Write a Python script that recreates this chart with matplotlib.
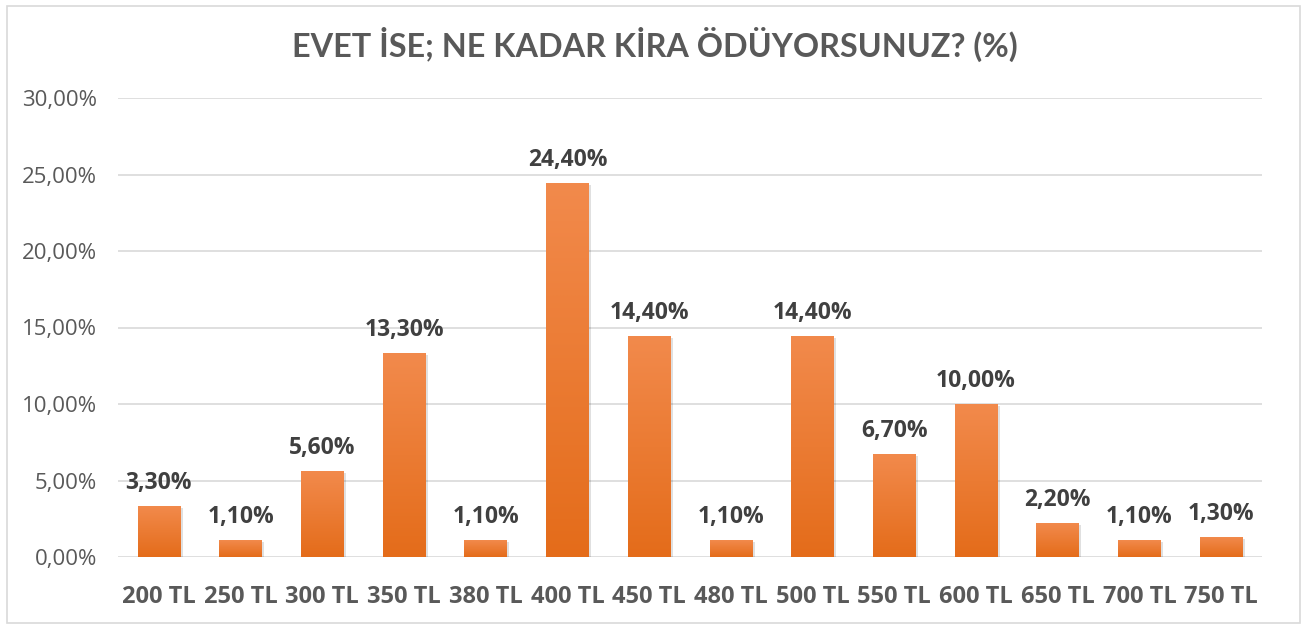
import numpy as np
import matplotlib.pyplot as plt
from matplotlib.colors import LinearSegmentedColormap
from matplotlib.patches import Rectangle

plt.rcParams['font.family'] = ['Open Sans', 'DejaVu Sans']

# veriler
categories = ['200 TL', '250 TL', '300 TL', '350 TL', '380 TL', '400 TL', '450 TL',
              '480 TL', '500 TL', '550 TL', '600 TL', '650 TL', '700 TL', '750 TL']
values = [3.3, 1.1, 5.6, 13.3, 1.1, 24.4, 14.4, 1.1, 14.4, 6.7, 10.0, 2.2, 1.1, 1.3]
yticks = [0, 5, 10, 15, 20, 25, 30]

fig = plt.figure(figsize=(13.09, 6.28), dpi=100)
ax = fig.add_axes([118 / 1309, 1 - 557 / 628, 1144 / 1309, 459 / 628])

# çerçeve
fig.add_artist(Rectangle((7 / 1309, 5 / 628), 1293 / 1309, 617 / 628, transform=fig.transFigure,
                         fill=False, edgecolor='#d9d9d9', linewidth=1.2))

cmap = LinearSegmentedColormap.from_list('og', ['#e46c1a', '#f28a4c'])
grad = np.linspace(0, 1, 256).reshape(-1, 1)
w = 0.52
x = np.arange(len(categories))
for xi, v in zip(x, values):
    # hafif gölge
    ax.add_patch(Rectangle((xi - w / 2 + 0.03, -0.1), w, v, facecolor='#000000', alpha=0.12,
                           edgecolor='none', zorder=2))
    ax.imshow(grad, extent=(xi - w / 2, xi + w / 2, 0, v), origin='lower', cmap=cmap,
              aspect='auto', zorder=3)
    ax.text(xi, v + 0.75, f'{v:.2f}%'.replace('.', ','), ha='center', va='bottom',
            fontsize=16.5, fontweight='bold', color='#404040', zorder=4)

ax.set_xlim(-0.5, len(categories) - 0.5)
ax.set_ylim(0, 30)
ax.set_yticks(yticks)
ax.set_yticklabels([f'{t:.2f}%'.replace('.', ',') for t in yticks], fontsize=16, color='#595959')
ax.set_xticks(x)
ax.set_xticklabels(categories, fontsize=17, fontweight='bold', color='#595959')
ax.tick_params(axis='x', length=0, pad=20)
ax.tick_params(axis='y', length=0, pad=15)
ax.grid(axis='y', color='#d9d9d9', linewidth=1.2, zorder=0)
ax.set_axisbelow(True)
for s in ax.spines.values():
    s.set_visible(False)

fig.text(0.5, 1 - 44 / 628, 'EVET İSE; NE KADAR KİRA ÖDÜYORSUNUZ? (%)', ha='center', va='center',
         fontsize=23.3, fontweight='bold', color='#595959', family=['Lato', 'DejaVu Sans'])

plt.savefig('out.png', dpi=100)
